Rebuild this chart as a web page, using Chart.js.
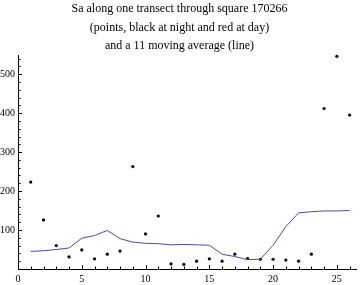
<!DOCTYPE html>
<html>
<head>
<meta charset="utf-8">
<script src="https://cdn.jsdelivr.net/npm/chart.js@4/dist/chart.umd.min.js"></script>
<style>
    html, body { margin: 0; padding: 0; background: #fff; }
    #wrap { width: 360px; height: 285px; }
</style>
</head>
<body>
<div id="wrap"><canvas id="saChart"></canvas></div>
<script>
// ### DATA ###
const positions = [1, 2, 3, 4, 5, 6, 7, 8, 9, 10, 11, 12, 13, 14, 15, 16, 17, 18, 19, 20, 21, 22, 23, 24, 25, 26];
const saValues = [223, 126, 60, 31, 49, 26, 38, 46, 263, 90, 136, 13, 12, 20, 26, 20, 38, 27, 25, 25, 23, 20, 38, 412, 546, 395];
const movingAvg = [45, 47, 50, 54, 79, 86, 99, 78, 69, 66, 65, 62, 63, 62, 61, 38, 32, 24, 25, 61, 109, 144, 147, 149, 149, 150];
const titleLines = [
    'Sa along one transect through square 170266',
    '(points, black at night and red at day)',
    'and a 11 moving average (line)'
];
const xTicks = [0, 5, 10, 15, 20, 25];
const yTicks = [100, 200, 300, 400, 500];

const serif = '"Liberation Serif", "DejaVu Serif", serif';

// Mathematica-style inward ticks drawn on the axes
const axisTicks = {
    id: 'axisTicks',
    afterDatasetsDraw(chart) {
        const { ctx, scales: { x, y } } = chart;
        const x0 = x.getPixelForValue(0);
        const y0 = y.getPixelForValue(0);
        ctx.save();
        ctx.strokeStyle = '#000';
        ctx.lineWidth = 1;
        ctx.beginPath();
        for (let v = 1; v <= 26; v++) {
            const px = Math.round(x.getPixelForValue(v)) + 0.5;
            const len = v % 5 === 0 ? 4 : 2.5;
            ctx.moveTo(px, y0);
            ctx.lineTo(px, y0 - len);
        }
        for (let v = 20; v <= 540; v += 20) {
            const py = Math.round(y.getPixelForValue(v)) + 0.5;
            const len = v % 100 === 0 ? 4 : 2.5;
            ctx.moveTo(x0, py);
            ctx.lineTo(x0 + len, py);
        }
        ctx.stroke();
        ctx.restore();
    }
};

new Chart(document.getElementById('saChart'), {
    type: 'scatter',
    data: {
        datasets: [
            {
                label: 'moving average',
                data: positions.map((p, i) => ({ x: p, y: movingAvg[i] })),
                showLine: true,
                borderColor: '#4b4ba3',
                borderWidth: 1,
                pointRadius: 0,
                tension: 0
            },
            {
                label: 'Sa',
                data: positions.map((p, i) => ({ x: p, y: saValues[i] })),
                pointRadius: 1.6,
                pointBackgroundColor: '#000',
                pointBorderWidth: 0,
                clip: false
            }
        ]
    },
    plugins: [axisTicks],
    options: {
        responsive: true,
        maintainAspectRatio: false,
        animation: false,
        layout: { padding: { left: 0, right: 1, top: 0, bottom: 0 } },
        plugins: {
            legend: { display: false },
            tooltip: { enabled: false },
            title: {
                display: true,
                text: titleLines,
                color: '#000',
                font: { family: serif, size: 12, weight: 'normal', lineHeight: '18.5px' },
                padding: { top: 0, bottom: 0 }
            }
        },
        scales: {
            x: {
                type: 'linear',
                min: 0,
                max: 26.5,
                afterFit: s => { s.height = 16; },
                afterBuildTicks: s => { s.ticks = xTicks.map(v => ({ value: v })); },
                grid: { display: false, drawTicks: false },
                border: { display: true, color: '#000', width: 1 },
                ticks: {
                    color: '#000',
                    padding: 4,
                    maxRotation: 0,
                    font: { family: serif, size: 10 }
                }
            },
            y: {
                type: 'linear',
                min: 0,
                max: 548,
                afterFit: s => { s.width = 18; },
                afterBuildTicks: s => { s.ticks = yTicks.map(v => ({ value: v })); },
                grid: { display: false, drawTicks: false },
                border: { display: true, color: '#000', width: 1 },
                ticks: {
                    color: '#000',
                    padding: 3,
                    font: { family: serif, size: 10 }
                }
            }
        }
    }
});
</script>
</body>
</html>
